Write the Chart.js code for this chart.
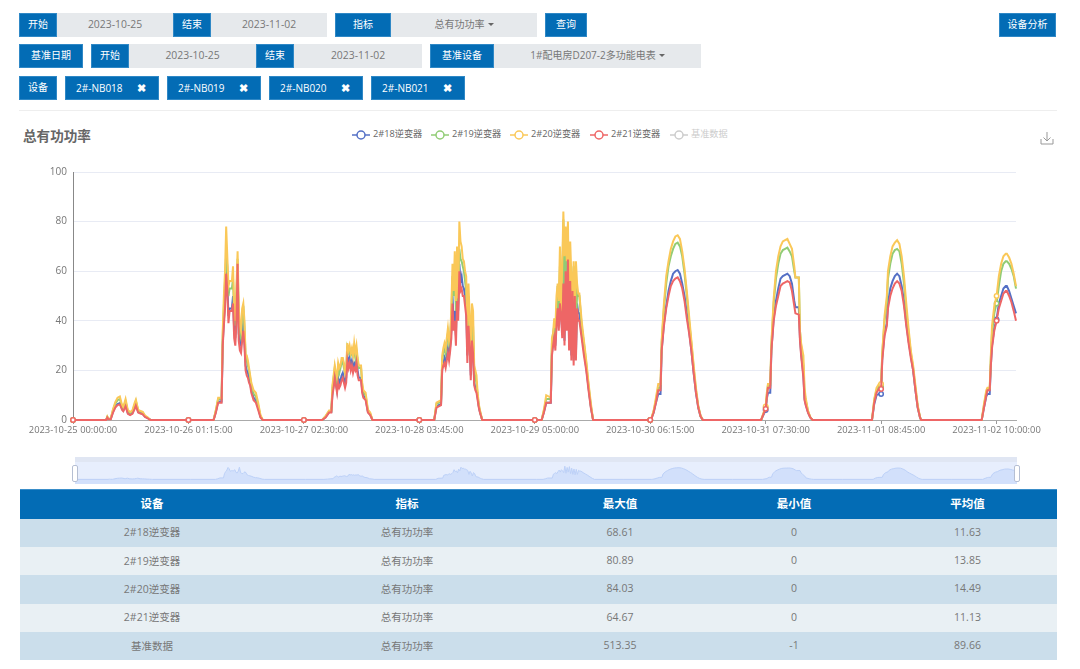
<!DOCTYPE html>
<html lang="zh">

<head>
    <meta charset="UTF-8">
    <title>总有功功率</title>
    <script src="https://cdn.jsdelivr.net/npm/chart.js"></script>
    <style>
        html, body { margin: 0; padding: 0; background: #fff; width: 1080px; height: 669px; overflow: hidden; }
        body { font-family: "Open Sans", "Noto Sans CJK SC", sans-serif; font-size: 10px; color: #666; position: relative; }
        .box { position: absolute; height: 24px; line-height: 23px; text-align: center; box-sizing: border-box; white-space: nowrap; }
        .blue { background: #036cb5; color: #fff; border: 1px solid #2f88c6; line-height: 21px; }
        .gray { background: #e6e9ec; color: #777; }
        .data { font-size: 10.4px; }
        .tag { text-align: left; padding-left: 10px; }
        .caret { display: inline-block; margin-left: 3px; vertical-align: 2px; border-top: 3px solid #666; border-left: 3px solid transparent; border-right: 3px solid transparent; }
        .close { font-weight: bold; margin-left: 14px; font-size: 11px; }
        #linha { position: absolute; left: 19px; top: 110px; width: 1038px; height: 1px; background: #eee; }
        #titulo { position: absolute; left: 23px; top: 125px; font-size: 13.6px; font-weight: bold; color: #666; }
        #legenda span { position: absolute; top: 127px; font-size: 9.2px; line-height: 14px; white-space: nowrap; }
        #legenda svg { position: absolute; top: 130px; }
        #download { position: absolute; left: 1040px; top: 131px; }
        #grafico { position: absolute; left: 0; top: 160px; width: 1080px; height: 290px; }
        #zoomFundo { position: absolute; left: 75px; top: 457px; width: 942px; height: 27px; background: #e7eefd; }
        #zoomTopo { position: absolute; left: 75px; top: 457px; width: 942px; height: 5px; background: #e0e6f3; z-index: 2; }
        #miniatura { position: absolute; left: 75px; top: 457px; width: 942px; height: 27px; }
        .alca { position: absolute; top: 465px; width: 4px; height: 15px; background: #fff; border: 1px solid #b5bfd3; border-radius: 2px; z-index: 3; }
        table { position: absolute; left: 20px; top: 489px; width: 1037px; border-collapse: collapse; table-layout: fixed; }
        th { height: 29px; padding: 0 0 2px; background: #036cb5; color: #fff; font-size: 11.5px; font-weight: bold; border-top: 1px solid #3a8ec9; box-sizing: border-box; }
        td { height: 28.4px; padding: 0 0 2px; box-sizing: border-box; text-align: center; font-size: 10.5px; color: #777; }
        tr:nth-child(odd) td { background: #cbdeeb; }
        tr:nth-child(even) td { background: #e9f0f4; }
    </style>
</head>

<body>
    <div class="box blue" style="left:19px;top:13px;width:38px">开始</div>
    <div class="box gray data" style="left:57px;top:13px;width:116px">2023-10-25</div>
    <div class="box blue" style="left:173px;top:13px;width:38px">结束</div>
    <div class="box gray data" style="left:211px;top:13px;width:116px">2023-11-02</div>
    <div class="box blue" style="left:335px;top:13px;width:56px">指标</div>
    <div class="box gray" style="left:391px;top:13px;width:146px">总有功功率<i class="caret"></i></div>
    <div class="box blue" style="left:545px;top:13px;width:42px">查询</div>
    <div class="box blue" style="left:999px;top:13px;width:57px">设备分析</div>

    <div class="box blue" style="left:19px;top:44px;width:64px">基准日期</div>
    <div class="box blue" style="left:91px;top:44px;width:38px">开始</div>
    <div class="box gray data" style="left:129px;top:44px;width:127px">2023-10-25</div>
    <div class="box blue" style="left:256px;top:44px;width:38px">结束</div>
    <div class="box gray data" style="left:294px;top:44px;width:128px">2023-11-02</div>
    <div class="box blue" style="left:430px;top:44px;width:64px">基准设备</div>
    <div class="box gray" style="left:494px;top:44px;width:207px">1#配电房D207-2多功能电表<i class="caret"></i></div>

    <div class="box blue" style="left:19px;top:76px;width:38px">设备</div>
    <div class="box blue tag" style="left:65px;top:76px;width:94px">2#-NB018<span class="close">✖</span></div>
    <div class="box blue tag" style="left:167px;top:76px;width:94px">2#-NB019<span class="close">✖</span></div>
    <div class="box blue tag" style="left:269px;top:76px;width:94px">2#-NB020<span class="close">✖</span></div>
    <div class="box blue tag" style="left:371px;top:76px;width:94px">2#-NB021<span class="close">✖</span></div>

    <div id="linha"></div>
    <div id="titulo">总有功功率</div>
    <div id="legenda"></div>
    <svg id="download" width="14" height="14" viewBox="0 0 14 14" fill="none" stroke="#999" stroke-width="1">
        <path d="M1 8v5h12V8M7 1v8.5M3.500 6.500L7 10l3.500-3.500" />
    </svg>

    <canvas id="grafico" width="1080" height="290"></canvas>

    <div id="zoomFundo"></div>
    <canvas id="miniatura" width="942" height="27"></canvas>
    <div id="zoomTopo"></div>
    <div class="alca" style="left:72px"></div>
    <div class="alca" style="left:1014px"></div>

    <table id="tabela"></table>

    <script>
        var xTickLabels = ['2023-10-25 00:00:00', '2023-10-26 01:15:00', '2023-10-27 02:30:00', '2023-10-28 03:45:00',
            '2023-10-29 05:00:00', '2023-10-30 06:15:00', '2023-10-31 07:30:00', '2023-11-01 08:45:00', '2023-11-02 10:00:00'];

        // 15 minute slots counted from 2023-10-25 00:00, one line per day
        var slots = [
            0, 29, 30, 31, 33, 35, 37, 39, 41, 43, 44, 46, 48, 50, 52, 54, 55, 57, 59, 61, 63, 65, 67, 68,
            101, 123, 125, 127, 130, 131, 132, 133, 134, 135, 136, 137, 138, 139, 140, 141, 142, 143, 144, 145, 146, 147, 148, 149, 150, 151, 152, 153, 154, 155, 156, 158, 160, 162, 164, 166,
            202, 218, 221, 224, 226, 227, 228, 229, 230, 231, 232, 233, 234, 235, 236, 237, 238, 239, 240, 241, 242, 243, 244, 245, 246, 247, 248, 249, 250, 251, 252, 253, 254, 256, 258, 260, 262,
            303, 316, 318, 322, 323, 324, 325, 326, 327, 328, 329, 330, 331, 332, 333, 334, 335, 336, 337, 338, 339, 340, 341, 342, 343, 344, 345, 346, 347, 348, 349, 350, 351, 352, 353, 354, 355, 356, 358,
            404, 410, 412, 414, 418, 419, 420, 421, 422, 423, 424, 425, 426, 427, 428, 429, 430, 431, 432, 433, 434, 435, 436, 437, 438, 439, 440, 441, 442, 443, 445, 447, 449, 451, 453, 455,
            480, 505, 506, 508, 510, 512, 514, 515, 517, 519, 521, 523, 525, 527, 529, 531, 533, 535, 537, 539, 541, 543, 545, 547, 549, 551,
            576, 602, 606, 607, 608, 610, 611, 613, 615, 617, 619, 621, 623, 625, 627, 629, 631, 632, 635, 636, 637, 639, 640, 641, 643, 645, 647,
            672, 699, 701, 703, 705, 707, 708, 710, 712, 713, 715, 717, 719, 721, 723, 725, 727, 729, 731, 733, 735, 737, 739, 741, 742,
            768, 795, 797, 799, 800, 802, 803, 804, 806, 808, 810, 812, 814, 816, 817, 819, 821, 823, 825
        ];

        var nb018 = [
            0, 0, 1.1, .4, .4, 3.3, 5.4, 6.4, 6.8, 4.4, 3.8, 6, 2.8, 2.2, 2.8, 5, 6.3, 3.2, 2.8, 2.5, 1.3, .9, .2, 0,
            0, 0, 3.3, 7.5, 7.5, 31, 40, 48, 62, 55, 42, 45, 45, 45, 50, 36, 33, 43, 63, 35, 31, 30, 36, 39, 32, 22, 20, 19, 17, 15, 12, 9, 8, 5, 1.3, 0,
            0, 0, 1.2, 3.2, 3.2, 11, 14, 18, 15, 12, 17, 15, 16, 18, 19, 17, 15, 17, 26, 23, 25, 22, 24, 21, 23, 22, 25, 20, 17, 17, 17, 12, 10, 8.5, 3.3, 2.2, 0,
            0, 0, 5.5, 6.5, 21, 23, 25, 23, 26, 29, 26, 30, 36, 50, 40, 44, 34, 53, 44, 63, 56, 58, 54, 53, 50, 46, 26, 42, 33, 18, 35, 30, 15, 13, 12, 9, 5.5, 3.2, 0,
            0, 0, 3.2, 7, 7, 27, 31, 35, 30, 40, 48, 38, 50, 44, 35, 68.61, 32, 62, 38, 66, 30, 58, 26, 54, 24, 52, 26, 47, 43, 43, 35, 28, 21, 13, 5.5, 0,
            0, 0, .5, 3, 7, 10.5, 10.5, 28, 39, 46, 52, 56, 59, 60, 60.5, 59, 55, 50, 43, 36, 28, 19, 11, 5, 1.5, 0,
            0, 0, 4, 8.5, 11, 11, 28, 41, 48, 53, 57, 58, 58.5, 59, 58, 55, 48, 45.5, 45.5, 33, 27, 18, 8.5, 6.5, 3.2, 1, 0,
            0, 0, 6.5, 10, 10.5, 10.5, 25, 35, 39, 47, 53, 56, 58, 59, 58, 54, 48, 39, 32, 26, 20, 12, 5, 1, 0,
            0, 0, 5, 9.5, 10.5, 10.5, 22, 30, 37, 40.5, 47, 50, 53, 54, 54, 52, 49, 46, 43
        ];

        var nb019 = [
            0, 0, 1.3, .5, .5, 4, 6.6, 8, 8.4, 5.3, 4.7, 7.5, 3.5, 2.8, 3.5, 6.2, 7.6, 3.8, 3.4, 3, 1.6, 1.1, .3, 0,
            0, 0, 3.8, 8.5, 8.5, 34, 46, 56, 67, 62, 50, 53, 53, 53, 57, 42, 38, 50, 65, 40, 35, 33, 42, 46, 37, 26, 24, 22, 20, 17, 14, 10.5, 9.5, 6, 1.5, 0,
            0, 0, 1.5, 3.5, 3.5, 13, 17, 21, 18, 15, 21, 19, 21, 23, 24, 21, 19, 20, 29, 27, 28, 26, 27, 26, 28, 25, 28, 24, 21, 21, 21, 14, 11, 10, 3.8, 2.6, 0,
            0, 0, 6.5, 7.5, 24, 27, 29, 27, 31, 35, 31, 34, 42, 58, 50, 58, 44, 60, 47, 69, 65, 64, 62, 60, 56, 52, 32, 50, 38, 24, 40, 38, 20, 17, 15, 10, 6, 3.6, 0,
            0, 0, 3.8, 8.5, 8.5, 31, 35, 38, 34, 45, 54, 44, 62, 42, 54, 80.89, 52, 70, 58, 72, 42, 62, 56, 30, 62, 36, 30, 52, 50, 50, 38, 31, 23, 14, 6, 0,
            0, 0, .6, 3.5, 8, 13, 13, 31, 45, 55, 62, 66, 69, 71, 71.5, 70, 66, 59, 50, 40, 31, 21, 12, 5.5, 1.7, 0,
            0, 0, 5, 10, 14, 14, 30, 47, 57, 63, 67, 68.5, 69, 69.5, 68, 66, 60, 57.5, 57.5, 36, 30, 22, 11, 8, 3.6, 1.2, 0,
            0, 0, 8, 12, 13.5, 13.5, 27, 40, 47, 57, 63, 67, 68.5, 69, 68, 63, 55, 44, 35, 27, 21, 13, 5.5, 1.2, 0,
            0, 0, 6, 11, 12.5, 12.5, 25, 35, 43, 47, 54, 60, 63, 64, 64, 63, 61, 58, 53
        ];

        var nb020 = [
            0, 0, 1.4, .5, .5, 4.3, 7.2, 9, 9.5, 5.8, 5.2, 8.5, 4, 3.2, 3.9, 7, 8.2, 4.1, 3.7, 3.3, 1.8, 1.2, .3, 0,
            0, 0, 4, 9, 9, 36, 50, 60, 78, 66, 54, 56, 56, 56, 62, 44, 40, 54, 68, 46, 38, 36, 45, 47, 40, 26, 26, 24, 21, 18, 15, 12, 11, 7, 2, 0,
            0, 0, 1.6, 3.8, 3.8, 14, 18, 22, 19, 17, 23, 21, 22, 25, 25, 23, 19, 21, 31, 28, 30, 27, 29, 26, 31, 27, 30, 25, 22, 22, 22, 15, 12, 11, 4.2, 3, 0,
            0, 0, 7, 8, 26, 29, 31, 29, 33, 37, 32, 34, 45, 63, 52, 68, 48, 70, 49, 80, 72, 70, 65, 64, 60, 58, 35, 55, 42, 28, 47, 44, 22, 20, 18, 11, 6.5, 4, 0,
            0, 0, 4.2, 10, 9, 33, 35, 41, 37, 50, 55, 48, 70, 44, 62, 84.03, 66, 78, 64, 80, 46, 72, 58, 50, 64, 38, 64, 55, 51, 51, 40, 32, 24, 15, 7, 0,
            0, 0, .7, 3.8, 9, 14.5, 14.5, 32, 47, 58, 64, 69, 72, 74, 74.5, 73, 68, 61, 52, 42, 32, 22, 13, 5.8, 1.8, 0,
            0, 0, 5.5, 11, 14.5, 14.5, 31, 49, 60, 66, 70, 72, 72.5, 73, 71, 69, 62, 57.5, 57.5, 36, 31, 26, 13, 9, 3.8, 1.2, 0,
            0, 0, 8.5, 13, 14.5, 14.5, 27, 42, 50, 60, 66, 70, 71.5, 72.5, 71, 66, 58, 47, 37, 28, 22, 14, 6, 1.3, 0,
            0, 0, 6.5, 12, 13, 13, 26, 38, 46, 50, 58, 63, 66, 67, 67, 65.5, 63, 59, 54
        ];

        var nb021 = [
            0, 0, 1, .3, .3, 3, 5, 6, 6.3, 4, 3.5, 5.5, 2.5, 2, 2.5, 4.5, 5.8, 3, 2.6, 2.3, 1.2, .8, .2, 0,
            0, 0, 3, 7, 7, 30, 38, 45, 59, 52, 39, 44, 44, 44, 47, 33, 30, 40, 63, 32, 28, 27, 32, 36, 30, 20, 18, 17, 15, 14, 11, 8, 7, 4, 1, 0,
            0, 0, 1, 3, 3, 10, 13, 17, 14, 11, 15, 13, 14, 16, 17, 15, 13, 15, 24, 21, 23, 20, 22, 19, 21, 20, 23, 18, 16, 16, 16, 11, 9, 8, 3, 2, 0,
            0, 0, 5, 6, 20, 22, 23, 21, 24, 27, 24, 28, 33, 47, 36, 40, 30, 48, 40, 60, 52, 53, 50, 50, 46, 42, 23, 38, 30, 16, 32, 27, 14, 12, 11, 8, 5, 3, 0,
            0, 0, 3, 7, 7, 26, 30, 33, 28, 38, 45, 36, 47, 42, 33, 55, 30, 60, 36, 64.67, 28, 56, 24, 52, 22, 50, 24, 45, 40, 40, 33, 26, 20, 12, 5, 0,
            0, 0, .5, 3, 7, 12, 12, 28, 38, 45, 50, 54, 56, 57, 57.5, 56, 53, 48, 41, 35, 28, 19, 11, 5, 1.5, 0,
            0, 0, 4.5, 9, 13, 13, 28, 40, 46, 50, 54, 55, 55.5, 56, 55.5, 52, 46, 43, 42.5, 32, 26, 17, 8, 6, 3, 1, 0,
            0, 0, 7, 11, 12.5, 12.5, 24, 34, 38, 45, 50, 53, 55, 56, 55, 52, 46, 38, 31, 25, 20, 12, 5, 1, 0,
            0, 0, 5, 10, 12, 12, 22, 29, 36, 40, 45, 48, 51, 52, 52, 50, 47.5, 44, 40
        ];

        var nomes = ['2#18逆变器', '2#19逆变器', '2#20逆变器', '2#21逆变器', '基准数据'];
        var cores = ['#5470c6', '#91cc75', '#fac858', '#ee6666', '#cccccc'];
        var series = [nb018, nb019, nb020, nb021];

        var colunas = ['设备', '指标', '最大值', '最小值', '平均值'];
        var larguras = [264, 246, 180, 168, 179];
        var indicador = '总有功功率';
        var maximos = ['68.61', '80.89', '84.03', '64.67', '513.35'];
        var minimos = ['0', '0', '0', '0', '-1'];
        var medias = ['11.63', '13.85', '14.49', '11.13', '89.66'];

        function pontos(valores) {
            return slots.map(function (s, i) { return { x: s, y: valores[i] }; });
        }

        // legend
        var legendaX = [352, 431, 510, 590, 670];
        var legendaHtml = '';
        nomes.forEach(function (nome, i) {
            legendaHtml += '<svg style="left:' + legendaX[i] + 'px" width="18" height="10"><path d="M0 5H18" stroke="' + cores[i] + '" stroke-width="1.5"/>' +
                '<circle cx="9" cy="5" r="4" fill="#fff" stroke="' + cores[i] + '" stroke-width="1.5"/></svg>';
            legendaHtml += '<span style="left:' + (legendaX[i] + 21) + 'px;color:' + (i == 4 ? '#ccc' : '#666') + '">' + nome + '</span>';
        });
        document.getElementById('legenda').innerHTML = legendaHtml;

        // table
        var tabelaHtml = '<colgroup>' + larguras.map(function (l) { return '<col style="width:' + l + 'px">'; }).join('') + '</colgroup>';
        tabelaHtml += '<thead><tr>' + colunas.map(function (c) { return '<th>' + c + '</th>'; }).join('') + '</tr></thead><tbody>';
        nomes.forEach(function (nome, i) {
            tabelaHtml += '<tr><td>' + nome + '</td><td>' + indicador + '</td><td>' + maximos[i] + '</td><td>' + minimos[i] + '</td><td>' + medias[i] + '</td></tr>';
        });
        document.getElementById('tabela').innerHTML = tabelaHtml + '</tbody>';

        // main chart, the last series has to end up on top
        new Chart(document.getElementById('grafico').getContext('2d'), {
            type: 'line',
            data: {
                datasets: series.map(function (valores, i) {
                    return {
                        label: nomes[i],
                        data: pontos(valores),
                        order: series.length - i,
                        borderColor: cores[i],
                        borderWidth: 2,
                        tension: 0,
                        clip: false,
                        pointBackgroundColor: '#fff',
                        pointBorderColor: cores[i],
                        pointBorderWidth: 1.5,
                        pointRadius: function (ctx) {
                            return ctx.raw.x % 101 == 0 ? 2.2 : 0;
                        }
                    };
                })
            },
            options: {
                responsive: false,
                animation: false,
                layout: { padding: { left: 0, top: 10, right: 64, bottom: 0 } },
                plugins: { legend: { display: false }, tooltip: { enabled: false } },
                scales: {
                    x: {
                        type: 'linear',
                        min: 0,
                        max: 825,
                        afterFit: function (scale) { scale.height = 30; },
                        grid: { drawOnChartArea: false, tickLength: 4, tickColor: '#999' },
                        border: { color: '#aaa' },
                        ticks: {
                            stepSize: 101,
                            includeBounds: false,
                            autoSkip: false,
                            maxRotation: 0,
                            padding: 1,
                            color: '#777',
                            font: { family: '"Open Sans"', size: 9.4 },
                            callback: function (value) { return xTickLabels[value / 101]; }
                        }
                    },
                    y: {
                        min: 0,
                        max: 100,
                        afterFit: function (scale) { scale.width = 73; },
                        grid: { color: '#e8ebf4', drawTicks: false },
                        border: { color: '#888' },
                        ticks: {
                            stepSize: 20,
                            padding: 6,
                            color: '#777',
                            font: { family: '"Open Sans"', size: 10 }
                        }
                    }
                }
            }
        });

        // small overview under the chart
        new Chart(document.getElementById('miniatura').getContext('2d'), {
            type: 'line',
            data: {
                datasets: [{
                    data: pontos(nb018),
                    borderColor: '#bcd0f7',
                    borderWidth: 1,
                    backgroundColor: '#d2e0fb',
                    fill: 'start',
                    tension: 0,
                    pointRadius: 0
                }]
            },
            options: {
                responsive: false,
                animation: false,
                layout: { padding: 0 },
                plugins: { legend: { display: false }, tooltip: { enabled: false } },
                scales: {
                    x: { type: 'linear', min: 0, max: 825, display: false },
                    y: { min: -24, max: 116, display: false }
                }
            }
        });
    </script>
</body>

</html>
